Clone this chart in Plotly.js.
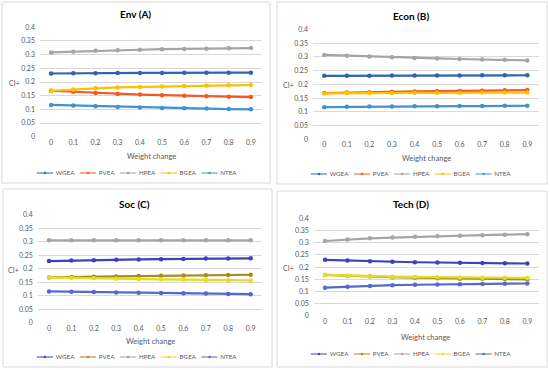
<!DOCTYPE html>
<html>
<head>
<meta charset="utf-8">
<script src="https://cdn.plot.ly/plotly-3.0.1.min.js"></script>
<style>html,body{margin:0;padding:0;background:#fff;overflow:hidden;}#chart{width:550px;height:370px;}</style>
</head>
<body>
<div id="chart"></div>
<script>
const weights = [0, 0.1, 0.2, 0.3, 0.4, 0.5, 0.6, 0.7, 0.8, 0.9];
const weightLabels = ["0", "0.1", "0.2", "0.3", "0.4", "0.5", "0.6", "0.7", "0.8", "0.9"];
const seriesNames = ["WGEA", "PVEA", "HPEA", "BGEA", "NTEA"];
const panelTitles = ["Env (A)", "Econ (B)", "Soc (C)", "Tech (D)"];

// Env (A)
const envWGEA = [0.231, 0.232, 0.232, 0.233, 0.233, 0.233, 0.234, 0.234, 0.234, 0.234];
const envPVEA = [0.168, 0.164, 0.160, 0.156, 0.154, 0.152, 0.150, 0.148, 0.146, 0.145];
const envHPEA = [0.308, 0.311, 0.314, 0.316, 0.318, 0.320, 0.321, 0.322, 0.323, 0.324];
const envBGEA = [0.168, 0.173, 0.177, 0.180, 0.182, 0.184, 0.185, 0.187, 0.188, 0.189];
const envNTEA = [0.116, 0.114, 0.111, 0.109, 0.107, 0.105, 0.104, 0.103, 0.101, 0.100];
// Econ (B)
const econWGEA = [0.231, 0.231, 0.231, 0.232, 0.232, 0.232, 0.232, 0.233, 0.233, 0.233];
const econPVEA = [0.168, 0.170, 0.171, 0.173, 0.174, 0.175, 0.176, 0.177, 0.178, 0.179];
const econHPEA = [0.307, 0.304, 0.301, 0.298, 0.296, 0.294, 0.292, 0.290, 0.289, 0.287];
const econBGEA = [0.167, 0.168, 0.168, 0.168, 0.169, 0.169, 0.169, 0.170, 0.170, 0.170];
const econNTEA = [0.117, 0.118, 0.119, 0.119, 0.120, 0.120, 0.121, 0.121, 0.122, 0.122];
// Soc (C)
const socWGEA = [0.229, 0.231, 0.232, 0.234, 0.235, 0.236, 0.237, 0.238, 0.238, 0.239];
const socPVEA = [0.168, 0.170, 0.171, 0.172, 0.173, 0.174, 0.175, 0.176, 0.177, 0.178];
const socHPEA = [0.306, 0.306, 0.306, 0.306, 0.306, 0.306, 0.306, 0.306, 0.306, 0.306];
const socBGEA = [0.168, 0.166, 0.165, 0.163, 0.162, 0.161, 0.160, 0.159, 0.158, 0.157];
const socNTEA = [0.116, 0.115, 0.114, 0.112, 0.111, 0.110, 0.109, 0.108, 0.107, 0.106];
// Tech (D)
const techWGEA = [0.230, 0.227, 0.224, 0.222, 0.220, 0.219, 0.218, 0.217, 0.216, 0.215];
const techPVEA = [0.168, 0.164, 0.162, 0.159, 0.157, 0.155, 0.153, 0.152, 0.151, 0.150];
const techHPEA = [0.307, 0.313, 0.318, 0.321, 0.324, 0.327, 0.329, 0.331, 0.333, 0.335];
const techBGEA = [0.168, 0.165, 0.163, 0.161, 0.160, 0.159, 0.158, 0.157, 0.157, 0.156];
const techNTEA = [0.116, 0.120, 0.123, 0.126, 0.128, 0.129, 0.130, 0.131, 0.132, 0.133];

const yTickVals = [0, 0.05, 0.1, 0.15, 0.2, 0.25, 0.3, 0.35, 0.4];
const yTickText = ["0", "0.05", "0.1", "0.15", "0.2", "0.25", "0.3", "0.35", "0.4"];

const coloursTop = ["#2F64B0", "#F05A24", "#A5A5A5", "#FFC000", "#4192CF"];
const coloursBottom = ["#4040B8", "#A88A1E", "#A5A5A5", "#E4DC22", "#5568CC"];

const panelData = [
  [envWGEA, envPVEA, envHPEA, envBGEA, envNTEA],
  [econWGEA, econPVEA, econHPEA, econBGEA, econNTEA],
  [socWGEA, socPVEA, socHPEA, socBGEA, socNTEA],
  [techWGEA, techPVEA, techHPEA, techBGEA, techNTEA]
];

const W = 550, H = 370;
const geo = [
  {plot:[40, 262, 27.3, 136.7], box:[2, 270, 2, 183], title:[135, 14], ci:[14, 83], xt:[151, 156], leg:[137, 173]},
  {plot:[313, 538.6, 29.3, 139.3], box:[277, 547, 2, 184], title:[411, 16], ci:[288, 85], xt:[426, 158], leg:[411, 174]},
  {plot:[37.8, 261.9, 215, 322.7], box:[3, 272, 189, 367], title:[134, 204], ci:[13, 270], xt:[150, 341], leg:[137, 357]},
  {plot:[313.8, 538.6, 218.3, 316], box:[277, 547, 191, 367], title:[411, 204], ci:[288, 268], xt:[425, 337], leg:[411, 354]}
];
const LEG_SCALE = 0.54;

const FONT = "Lato, 'Open Sans', sans-serif";
const traces = [];
const layout = {
  width: W, height: H,
  margin: {l:0, r:0, t:0, b:0},
  paper_bgcolor: "#ffffff",
  plot_bgcolor: "rgba(0,0,0,0)",
  font: {family: FONT, color: "#595959", size: 7},
  shapes: [], annotations: [],
  hovermode: false
};

geo.forEach((g, i) => {
  const k = i + 1;
  const sfx = k === 1 ? "" : String(k);
  const legName = "legend" + sfx;
  const colours = i < 2 ? coloursTop : coloursBottom;
  seriesNames.forEach((name, s) => {
    traces.push({
      type: "scatter", mode: "lines+markers",
      x: weights, y: panelData[i][s], name: name,
      xaxis: "x" + sfx, yaxis: "y" + sfx,
      legend: legName,
      line: {color: colours[s], width: 2.2},
      marker: {color: colours[s], size: 4.5, symbol: "circle"}
    });
  });
  layout["xaxis" + sfx] = {
    domain: [g.plot[0] / W, g.plot[1] / W],
    anchor: "y" + sfx,
    range: [-0.05, 0.95],
    tickmode: "array", tickvals: weights, ticktext: weightLabels,
    showgrid: false, zeroline: false, showline: false,
    ticks: "", tickfont: {size: 7, color: "#595959"}, fixedrange: true
  };
  layout["yaxis" + sfx] = {
    domain: [1 - g.plot[3] / H, 1 - g.plot[2] / H],
    anchor: "x" + sfx,
    range: [0, 0.4],
    tickmode: "array", tickvals: yTickVals, ticktext: yTickText,
    showgrid: true, gridcolor: "#D9D9D9", gridwidth: 1,
    zeroline: false, showline: false, ticks: "",
    tickfont: {size: 7, color: "#595959"}, ticklabelstandoff: 4, fixedrange: true
  };
  // placed centrally first (room for one row), then shrunk and moved into its panel
  layout[legName] = {
    orientation: "h", x: 0.5, y: 0.5,
    xanchor: "center", yanchor: "middle",
    font: {size: 11.5, color: "#595959", family: FONT},
    bgcolor: "rgba(0,0,0,0)", itemwidth: 30, tracegroupgap: 0,
    itemclick: false
  };
  layout.shapes.push({type: "rect", xref: "paper", yref: "paper",
    x0: g.box[0] / W, x1: g.box[1] / W, y0: 1 - g.box[3] / H, y1: 1 - g.box[2] / H,
    line: {color: "#D9D9D9", width: 1}, fillcolor: "rgba(0,0,0,0)", layer: "below"});
  layout.annotations.push({text: "<b>" + panelTitles[i] + "</b>", xref: "paper", yref: "paper",
    x: g.title[0] / W, y: 1 - g.title[1] / H, showarrow: false, xanchor: "center", yanchor: "middle",
    font: {size: 10, color: "#000000", family: FONT}});
  layout.annotations.push({text: "CI+", xref: "paper", yref: "paper",
    x: g.ci[0] / W, y: 1 - g.ci[1] / H, showarrow: false, xanchor: "center", yanchor: "middle",
    font: {size: 7, color: "#595959", family: FONT}});
  layout.annotations.push({text: "Weight change", xref: "paper", yref: "paper",
    x: g.xt[0] / W, y: 1 - g.xt[1] / H, showarrow: false, xanchor: "center", yanchor: "middle",
    font: {size: 7.5, color: "#595959", family: FONT}});
});

Plotly.newPlot("chart", traces, layout, {staticPlot: true, displayModeBar: false}).then(gd => {
  // shrink each legend (Plotly's minimum symbol width is larger than the reference's)
  geo.forEach((g, i) => {
    const id = i === 0 ? "legend" : "legend" + (i + 1);
    const el = gd.querySelector("g." + id);
    if (!el) return;
    el.setAttribute("transform", "");
    const bb = el.getBBox();
    const tx = g.leg[0] - (bb.x + bb.width / 2) * LEG_SCALE;
    const ty = g.leg[1] - (bb.y + bb.height / 2) * LEG_SCALE;
    el.setAttribute("transform", "translate(" + tx + "," + ty + ") scale(" + LEG_SCALE + ")");
  });
});
</script>
</body>
</html>
